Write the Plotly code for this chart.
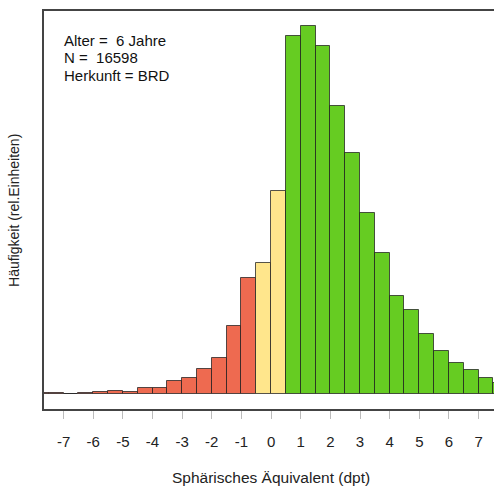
import plotly.graph_objects as go

# Histogram of spherical equivalent, bins of 0.5 dpt (left edges)
bin_left = [-8.0, -7.5, -7.0, -6.5, -6.0, -5.5, -5.0, -4.5, -4.0, -3.5,
            -3.0, -2.5, -2.0, -1.5, -1.0, -0.5, 0.0, 0.5, 1.0, 1.5,
            2.0, 2.5, 3.0, 3.5, 4.0, 4.5, 5.0, 5.5, 6.0, 6.5, 7.0, 7.5]
freq = [1.0, 1.7, 0.7, 1.7, 2.3, 3.7, 2.7, 6.0, 6.3, 13.0,
        16.5, 25.0, 36.0, 68.5, 116.0, 131.0, 203.5, 357.7, 368.3, 348.3,
        287.7, 240.7, 181.0, 141.0, 98.0, 84.0, 60.7, 43.0, 31.3, 24.3,
        16.3, 11.0]
bin_width = 0.5

tick_vals = [-7, -6, -5, -4, -3, -2, -1, 0, 1, 2, 3, 4, 5, 6, 7]
tick_text = ["-7", "-6", "-5", "-4", "-3", "-2", "-1", "0", "1", "2", "3", "4", "5", "6", "7"]

info_lines = ["Alter =\u00a0 6 Jahre", "N =\u00a0 16598", "Herkunft = BRD"]

RED = "#EE6A50"
YELLOW = "#FFE68C"
GREEN = "#66CC22"


def bin_colour(left):
    if left < -0.5:
        return RED
    if left < 0.5:
        return YELLOW
    return GREEN


centers = [b + bin_width / 2 for b in bin_left]
colours = [bin_colour(b) for b in bin_left]

fig = go.Figure(go.Bar(
    x=centers, y=freq, width=bin_width,
    marker=dict(color=colours, line=dict(color="rgba(30,30,30,0.75)", width=1)),
    hoverinfo="skip",
))

ymax = max(freq)
font = "Liberation Sans, Arial, sans-serif"

fig.update_layout(
    width=494, height=487,
    margin=dict(l=44, r=0, t=11, b=78),
    plot_bgcolor="white", paper_bgcolor="white",
    showlegend=False, bargap=0,
    font=dict(family=font, size=15, color="#222"),
    xaxis=dict(
        range=[-7.66, 7.52], showgrid=False, zeroline=False,
        showline=True, mirror=True, linecolor="#444", linewidth=1.5,
        ticks="outside", ticklen=8, tickcolor="#bbbbbb", tickwidth=1,
        tickvals=tick_vals, ticktext=tick_text, ticklabelstandoff=10,
        tickfont=dict(size=15, color="#222"),
    ),
    yaxis=dict(
        range=[-0.04 * ymax, 1.04 * ymax], showgrid=False, zeroline=False,
        showline=True, mirror=False, linecolor="#444", linewidth=1.5,
        showticklabels=False, ticks="",
    ),
)

# axis titles
fig.add_annotation(x=0, xref="x", y=-0.171, yref="paper", text="Sphärisches Äquivalent (dpt)",
                   showarrow=False, xanchor="center", yanchor="middle",
                   font=dict(size=15.5, color="#222"))
fig.add_annotation(x=-0.0667, xref="paper", y=0.5, yref="paper", text="Häufigkeit (rel.Einheiten)",
                   showarrow=False, textangle=-90, xanchor="center", yanchor="middle",
                   font=dict(size=14, color="#222"))

# info block in the upper left corner
for i, line in enumerate(info_lines):
    ypx = 40 + 17.5 * i
    fig.add_annotation(x=0.04, xref="paper", y=(409 - ypx) / 398, yref="paper", text=line,
                       showarrow=False, xanchor="left", yanchor="middle",
                       font=dict(size=15, color="#111"))

fig.write_html("out.html")
